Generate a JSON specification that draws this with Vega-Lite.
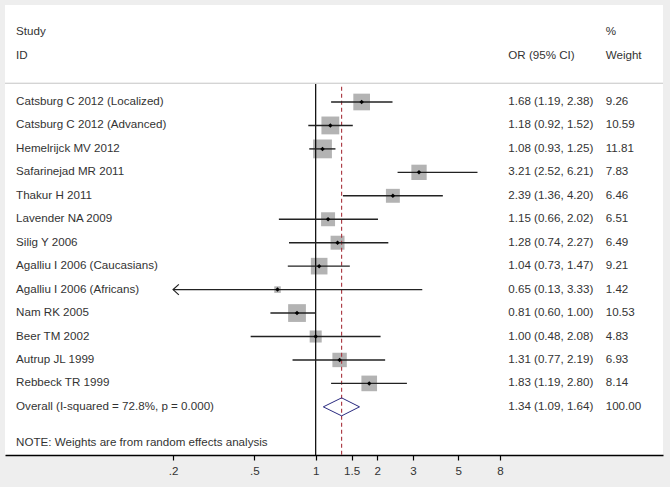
{
  "$schema": "https://vega.github.io/schema/vega-lite/v6.json",
  "width": 658,
  "height": 450,
  "autosize": {"type": "none"},
  "padding": {"left": 5, "top": 5, "right": 7, "bottom": 32},
  "background": "#eeeeee",
  "config": {
    "view": {"stroke": null, "fill": "white"},
    "text": {"font": "Liberation Sans", "fontSize": 11.6, "color": "#333333", "align": "left", "baseline": "middle"},
    "axis": {"grid": false}
  },
  "datasets": {
    "rows": [
      {"row": 1, "kind": "study", "study": "Catsburg C 2012 (Localized)", "or": 1.68, "lo": 1.19, "hi": 2.38, "weight": 9.26, "ci": "1.68 (1.19, 2.38)"},
      {"row": 2, "kind": "study", "study": "Catsburg C 2012 (Advanced)", "or": 1.18, "lo": 0.92, "hi": 1.52, "weight": 10.59, "ci": "1.18 (0.92, 1.52)"},
      {"row": 3, "kind": "study", "study": "Hemelrijck MV 2012", "or": 1.08, "lo": 0.93, "hi": 1.25, "weight": 11.81, "ci": "1.08 (0.93, 1.25)"},
      {"row": 4, "kind": "study", "study": "Safarinejad MR 2011", "or": 3.21, "lo": 2.52, "hi": 6.21, "weight": 7.83, "ci": "3.21 (2.52, 6.21)"},
      {"row": 5, "kind": "study", "study": "Thakur H 2011", "or": 2.39, "lo": 1.36, "hi": 4.20, "weight": 6.46, "ci": "2.39 (1.36, 4.20)"},
      {"row": 6, "kind": "study", "study": "Lavender NA 2009", "or": 1.15, "lo": 0.66, "hi": 2.02, "weight": 6.51, "ci": "1.15 (0.66, 2.02)"},
      {"row": 7, "kind": "study", "study": "Silig Y 2006", "or": 1.28, "lo": 0.74, "hi": 2.27, "weight": 6.49, "ci": "1.28 (0.74, 2.27)"},
      {"row": 8, "kind": "study", "study": "Agalliu I 2006 (Caucasians)", "or": 1.04, "lo": 0.73, "hi": 1.47, "weight": 9.21, "ci": "1.04 (0.73, 1.47)"},
      {"row": 9, "kind": "study", "study": "Agalliu I 2006 (Africans)", "or": 0.65, "lo": 0.13, "hi": 3.33, "weight": 1.42, "ci": "0.65 (0.13, 3.33)"},
      {"row": 10, "kind": "study", "study": "Nam RK 2005", "or": 0.81, "lo": 0.60, "hi": 1.00, "weight": 10.53, "ci": "0.81 (0.60, 1.00)"},
      {"row": 11, "kind": "study", "study": "Beer TM 2002", "or": 1.00, "lo": 0.48, "hi": 2.08, "weight": 4.83, "ci": "1.00 (0.48, 2.08)"},
      {"row": 12, "kind": "study", "study": "Autrup JL 1999", "or": 1.31, "lo": 0.77, "hi": 2.19, "weight": 6.93, "ci": "1.31 (0.77, 2.19)"},
      {"row": 13, "kind": "study", "study": "Rebbeck TR 1999", "or": 1.83, "lo": 1.19, "hi": 2.80, "weight": 8.14, "ci": "1.83 (1.19, 2.80)"},
      {"row": 14, "kind": "overall", "study": "Overall  (I-squared = 72.8%, p = 0.000)", "or": 1.34, "lo": 1.09, "hi": 1.64, "weight": 100.00, "ci": "1.34 (1.09, 1.64)"}
    ],
    "overall": [
      {"row": 14, "or": 1.34, "lo": 1.09, "hi": 1.64}
    ]
  },
  "layer": [
    {
      "data": {"name": "rows"},
      "transform": [{"filter": "datum.kind == 'study'"}],
      "mark": {"type": "point", "shape": "square", "filled": true, "color": "#b3b3b3", "opacity": 1},
      "encoding": {
        "x": {"field": "or", "type": "quantitative", "scale": {"type": "log", "domain": [0.03, 50.4], "nice": false}, "axis": {"values": [0.2, 0.5, 1, 1.5, 2, 3, 5, 8], "labelExpr": "datum.value < 1 ? substring('' + datum.value, 1) : '' + datum.value", "title": null, "domainColor": "#000000", "domainWidth": 1.5, "tickColor": "#000000", "tickSize": 5, "tickWidth": 1.2, "labelFont": "Liberation Sans", "labelFontSize": 11.6, "labelColor": "#333333", "labelPadding": 5}},
        "y": {"field": "row", "type": "quantitative", "scale": {"domain": [-3.136, 16.053], "reverse": true, "nice": false, "zero": false}, "axis": null},
        "size": {"field": "weight", "type": "quantitative", "scale": {"domain": [0, 12], "range": [0, 360], "zero": true}, "legend": null}
      }
    },
    {
      "data": {"name": "overall"},
      "mark": {"type": "rule", "color": "#c4c4c4", "strokeWidth": 1},
      "encoding": {"y": {"datum": 0.2, "type": "quantitative"}}
    },
    {
      "data": {"name": "overall"},
      "mark": {"type": "rule", "color": "#000000", "strokeWidth": 1.2},
      "encoding": {
        "x": {"datum": 1, "type": "quantitative"},
        "y": {"datum": 0.23, "type": "quantitative"},
        "y2": {"datum": 16.053}
      }
    },
    {
      "data": {"name": "overall"},
      "mark": {"type": "rule", "color": "#a8323c", "strokeWidth": 1.1, "strokeDash": [4, 3]},
      "encoding": {
        "x": {"field": "or", "type": "quantitative"},
        "y": {"datum": 0.35, "type": "quantitative"},
        "y2": {"datum": 16.053}
      }
    },
    {
      "data": {"name": "rows"},
      "transform": [{"filter": "datum.kind == 'study' && datum.lo >= 0.2"}],
      "mark": {"type": "rule", "color": "#222222", "strokeWidth": 1.4},
      "encoding": {
        "x": {"field": "lo", "type": "quantitative"},
        "x2": {"field": "hi"},
        "y": {"field": "row", "type": "quantitative"}
      }
    },
    {
      "data": {"name": "rows"},
      "transform": [{"filter": "datum.kind == 'study' && datum.lo < 0.2"}],
      "mark": {"type": "rule", "color": "#222222", "strokeWidth": 1.4},
      "encoding": {
        "x": {"field": "hi", "type": "quantitative"},
        "x2": {"datum": 0.2},
        "y": {"field": "row", "type": "quantitative"}
      }
    },
    {
      "data": {"name": "rows"},
      "transform": [{"filter": "datum.kind == 'study' && datum.lo < 0.2"}],
      "mark": {"type": "point", "shape": "M1.1,-1L0,0L1.1,1", "filled": false, "color": "#222222", "strokeWidth": 1.2, "size": 110, "opacity": 1},
      "encoding": {
        "x": {"datum": 0.2, "type": "quantitative"},
        "y": {"field": "row", "type": "quantitative"}
      }
    },
    {
      "data": {"name": "rows"},
      "transform": [{"filter": "datum.kind == 'study'"}],
      "mark": {"type": "point", "shape": "diamond", "filled": true, "color": "#000000", "size": 20, "opacity": 1},
      "encoding": {
        "x": {"field": "or", "type": "quantitative"},
        "y": {"field": "row", "type": "quantitative"}
      }
    },
    {
      "data": {"name": "overall"},
      "mark": {"type": "rule", "color": "#2a2a80", "strokeWidth": 1, "y2Offset": -9},
      "encoding": {"x": {"field": "lo", "type": "quantitative"}, "x2": {"field": "or"}, "y": {"field": "row", "type": "quantitative"}, "y2": {"field": "row"}}
    },
    {
      "data": {"name": "overall"},
      "mark": {"type": "rule", "color": "#2a2a80", "strokeWidth": 1, "y2Offset": 9},
      "encoding": {"x": {"field": "lo", "type": "quantitative"}, "x2": {"field": "or"}, "y": {"field": "row", "type": "quantitative"}, "y2": {"field": "row"}}
    },
    {
      "data": {"name": "overall"},
      "mark": {"type": "rule", "color": "#2a2a80", "strokeWidth": 1, "yOffset": -9},
      "encoding": {"x": {"field": "or", "type": "quantitative"}, "x2": {"field": "hi"}, "y": {"field": "row", "type": "quantitative"}, "y2": {"field": "row"}}
    },
    {
      "data": {"name": "overall"},
      "mark": {"type": "rule", "color": "#2a2a80", "strokeWidth": 1, "yOffset": 9},
      "encoding": {"x": {"field": "or", "type": "quantitative"}, "x2": {"field": "hi"}, "y": {"field": "row", "type": "quantitative"}, "y2": {"field": "row"}}
    },
    {
      "data": {"name": "rows"},
      "mark": {"type": "text"},
      "encoding": {"x": {"datum": 0.034, "type": "quantitative"}, "y": {"field": "row", "type": "quantitative"}, "text": {"field": "study"}}
    },
    {
      "data": {"name": "rows"},
      "mark": {"type": "text"},
      "encoding": {"x": {"datum": 8.79, "type": "quantitative"}, "y": {"field": "row", "type": "quantitative"}, "text": {"field": "ci"}}
    },
    {
      "data": {"name": "rows"},
      "mark": {"type": "text"},
      "encoding": {"x": {"datum": 26.4, "type": "quantitative"}, "y": {"field": "row", "type": "quantitative"}, "text": {"field": "weight", "type": "quantitative", "format": ".2f"}}
    },
    {
      "data": {"name": "overall"},
      "mark": {"type": "text", "text": "Study"},
      "encoding": {"x": {"datum": 0.034, "type": "quantitative"}, "y": {"datum": -1.99, "type": "quantitative"}}
    },
    {
      "data": {"name": "overall"},
      "mark": {"type": "text", "text": "ID"},
      "encoding": {"x": {"datum": 0.034, "type": "quantitative"}, "y": {"datum": -0.96, "type": "quantitative"}}
    },
    {
      "data": {"name": "overall"},
      "mark": {"type": "text", "text": "%"},
      "encoding": {"x": {"datum": 26.4, "type": "quantitative"}, "y": {"datum": -1.99, "type": "quantitative"}}
    },
    {
      "data": {"name": "overall"},
      "mark": {"type": "text", "text": "OR (95% CI)"},
      "encoding": {"x": {"datum": 8.79, "type": "quantitative"}, "y": {"datum": -0.96, "type": "quantitative"}}
    },
    {
      "data": {"name": "overall"},
      "mark": {"type": "text", "text": "Weight"},
      "encoding": {"x": {"datum": 26.4, "type": "quantitative"}, "y": {"datum": -0.96, "type": "quantitative"}}
    },
    {
      "data": {"name": "overall"},
      "mark": {"type": "text", "text": "NOTE: Weights are from random effects analysis"},
      "encoding": {"x": {"datum": 0.034, "type": "quantitative"}, "y": {"datum": 15.55, "type": "quantitative"}}
    }
  ]
}
